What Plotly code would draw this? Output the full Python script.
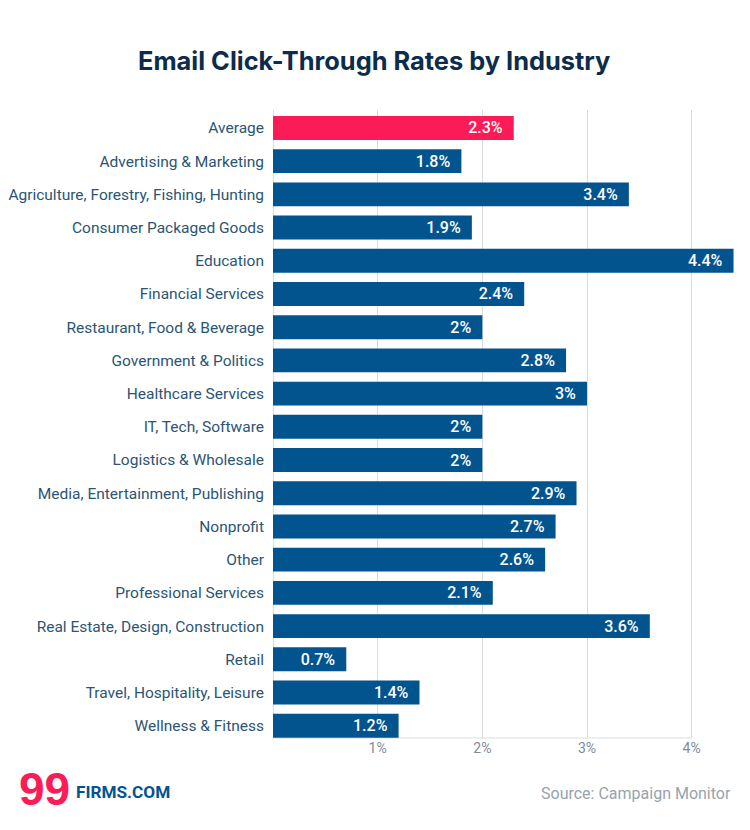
import plotly.graph_objects as go

categories = ["Average", "Advertising & Marketing", "Agriculture, Forestry, Fishing, Hunting",
              "Consumer Packaged Goods", "Education", "Financial Services",
              "Restaurant, Food & Beverage", "Government & Politics", "Healthcare Services",
              "IT, Tech, Software", "Logistics & Wholesale", "Media, Entertainment, Publishing",
              "Nonprofit", "Other", "Professional Services", "Real Estate, Design, Construction",
              "Retail", "Travel, Hospitality, Leisure", "Wellness & Fitness"]
values = [2.3, 1.8, 3.4, 1.9, 4.4, 2.4, 2, 2.8, 3, 2, 2, 2.9, 2.7, 2.6, 2.1, 3.6, 0.7, 1.4, 1.2]
tick_values = [1, 2, 3, 4]
tick_labels = ["1%", "2%", "3%", "4%"]
title = "Email Click-Through Rates by Industry"
source = "Source: Campaign Monitor"

RED = "#fb1b56"
BLUE = "#02548f"
FONT = "Roboto"

fig = go.Figure(go.Bar(
    x=values, y=categories, orientation="h",
    marker=dict(color=[RED] + [BLUE] * (len(values) - 1), line=dict(width=0)),
    width=0.72,
    text=[f"{v}%\u2002" for v in values], textposition="inside", insidetextanchor="end",
    textangle=0, constraintext="none", cliponaxis=False,
    textfont=dict(family=FONT, size=16, color="white", weight=500),
    hoverinfo="skip",
))
# The page adds an 8 px offset, so the figure is 8 px smaller and starts 8 px earlier
fig.update_layout(
    width=742, height=822, autosize=False,
    margin=dict(l=264.5, r=5.5, t=102, b=92),
    paper_bgcolor="white", plot_bgcolor="white", showlegend=False,
    font=dict(family=FONT),
    xaxis=dict(range=[0, 4.5], tickvals=tick_values, ticktext=tick_labels, side="bottom",
               showgrid=True, gridcolor="#d9dde0", gridwidth=1, zeroline=True,
               zerolinecolor="#d9dde0", zerolinewidth=1,
               showline=False, ticks="",
               tickfont=dict(family=FONT, size=14, color="#7d8b96"), automargin=False),
    yaxis=dict(categoryorder="array", categoryarray=categories, range=[18.37, -0.54],
               ticks="", showgrid=False, ticklabelstandoff=8,
               tickfont=dict(family=FONT, size=15.5, color="#2c5573"), automargin=False),
)
fig.add_shape(type="line", xref="x", yref="y domain", x0=0, x1=tick_values[-1], y0=0, y1=0,
              line=dict(color="#d9dde0", width=1), layer="below")
def px(x): return (x - 272.5) / 472
def py(y): return (738 - y) / 628
fig.add_annotation(text=f"<b>{title}</b>", x=px(374), y=py(61), xref="paper", yref="paper",
                   xanchor="center", yanchor="middle", showarrow=False,
                   font=dict(family="Inter", size=25.4, color="#0b2c4d"))
fig.add_annotation(text=source, x=px(733), y=py(793), xref="paper", yref="paper",
                   xanchor="right", yanchor="middle", showarrow=False,
                   font=dict(family=FONT, size=16, color="#98a3ab"))
fig.add_annotation(text="<b>99</b>", x=px(44), y=py(789), xref="paper", yref="paper",
                   xanchor="center", yanchor="middle", showarrow=False,
                   font=dict(family="Liberation Sans", size=46, color=RED))
fig.add_annotation(text="<b>FIRMS.COM</b>", x=px(73), y=py(792), xref="paper", yref="paper",
                   xanchor="left", yanchor="middle", showarrow=False,
                   font=dict(family=FONT, size=17.2, color=BLUE))
fig.write_html("out.html")
